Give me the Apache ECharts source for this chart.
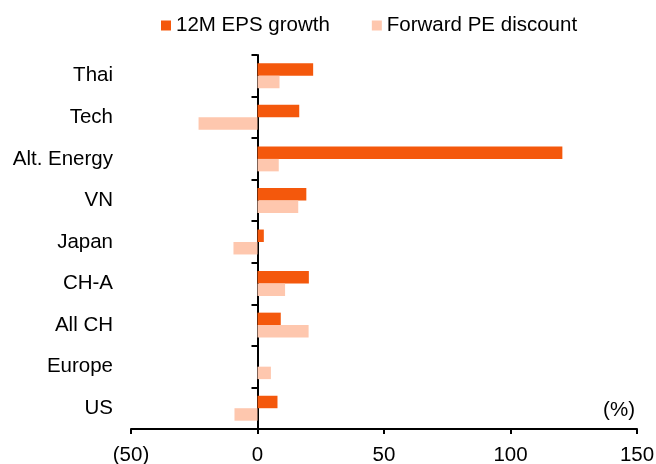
<!DOCTYPE html>
<html>
<head>
<meta charset="utf-8">
<script src="https://cdn.jsdelivr.net/npm/echarts@6/dist/echarts.min.js"></script>
<style>
  html, body { margin: 0; padding: 0; background: #fff; }
  #main { width: 656px; height: 464px; }
</style>
</head>
<body>
<div id="main"></div>
<script>
// 数据
var categories = ['Thai', 'Tech', 'Alt. Energy', 'VN', 'Japan', 'CH-A', 'All CH', 'Europe', 'US'];
var epsGrowth = [22, 16.5, 120.5, 19.3, 2.5, 20.3, 9.2, null, 7.9];
var peDiscount = [8.7, -23.3, 8.4, 16.1, -9.5, 10.9, 20.2, 5.3, -9.1];
var xTicks = [-50, 0, 50, 100, 150];

var font = "'Liberation Sans', Arial, sans-serif";

var myChart = echarts.init(document.getElementById('main'));
var option = {
    backgroundColor: '#ffffff',
    animation: false,
    legend: {
        left: 161,
        top: 15,
        padding: 0,
        itemWidth: 10,
        itemHeight: 10,
        itemGap: 42,
        icon: 'rect',
        textStyle: {
            fontFamily: font,
            fontSize: 20.5,
            color: '#000'
        },
        data: ['12M EPS growth', 'Forward PE discount']
    },
    grid: {
        left: 131,
        right: 19,
        top: 55,
        bottom: 35,
        containLabel: false,
        outerBoundsMode: 'none'
    },
    xAxis: {
        type: 'value',
        min: xTicks[0],
        max: xTicks[xTicks.length - 1],
        interval: 50,
        splitLine: { show: false },
        axisLine: {
            show: true,
            lineStyle: { color: '#000', width: 2 }
        },
        axisTick: {
            show: true,
            length: 5,
            lineStyle: { color: '#000', width: 2 }
        },
        axisLabel: {
            margin: 16,
            fontFamily: font,
            fontSize: 20.5,
            color: '#000',
            formatter: function (v) {
                return v < 0 ? '(' + Math.abs(v) + ')' : String(v);
            }
        }
    },
    yAxis: {
        type: 'category',
        inverse: true,
        data: categories,
        axisLine: {
            show: true,
            onZero: true,
            lineStyle: { color: '#000', width: 2 }
        },
        axisTick: {
            show: true,
            length: 6,
            lineStyle: { color: '#000', width: 2 }
        },
        axisLabel: {
            margin: 18,
            fontFamily: font,
            fontSize: 20.5,
            color: '#000'
        },
        splitLine: { show: false }
    },
    graphic: [{
        type: 'text',
        right: 21,
        top: 400,
        style: {
            text: '(%)',
            font: '20.5px ' + font,
            fill: '#000'
        }
    }],
    series: [
        {
            name: '12M EPS growth',
            type: 'bar',
            data: epsGrowth,
            barGap: '0%',
            barCategoryGap: '40%',
            itemStyle: { color: '#F4580C' }
        },
        {
            name: 'Forward PE discount',
            type: 'bar',
            data: peDiscount,
            barGap: '0%',
            barCategoryGap: '40%',
            itemStyle: { color: '#FEC7AE' }
        }
    ]
};
myChart.setOption(option);
</script>
</body>
</html>
